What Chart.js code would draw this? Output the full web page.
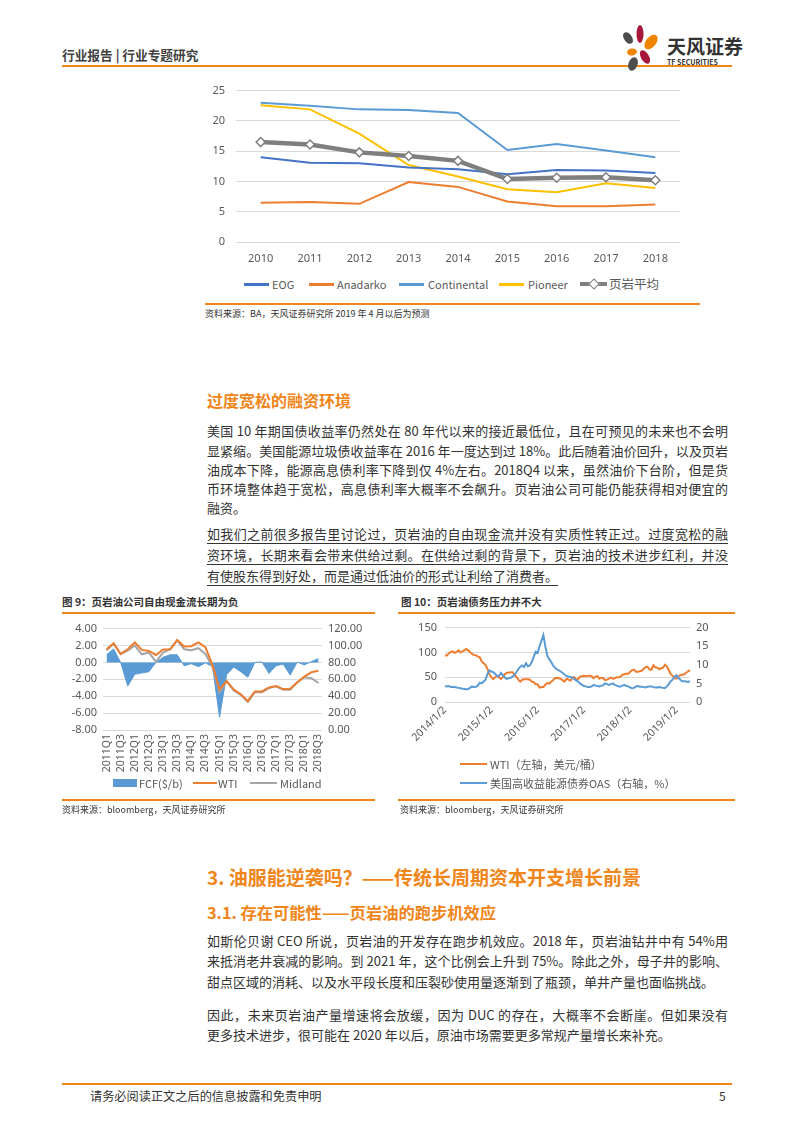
<!DOCTYPE html>
<html><head><meta charset="utf-8">
<script src="https://cdn.jsdelivr.net/npm/chart.js@4.4.1/dist/chart.umd.min.js"></script>
<style>
body{margin:0;background:#fff;}
#page{position:relative;width:793px;height:1122px;overflow:hidden;font-family:'Noto Sans CJK SC','Noto Sans',sans-serif;color:#333;}
.hl{position:absolute;height:2px;background:#F08519;}
.t{position:absolute;white-space:nowrap;line-height:16px;}
.lg{position:absolute;}
.para{position:absolute;left:207px;width:521px;font-size:13px;color:#333;}
.para div{text-align:justify;text-align-last:justify;white-space:nowrap;}
.para div.last{text-align-last:left;}
.p1 div{height:19.3px;line-height:19.3px;}
.p2 div{height:21px;line-height:21px;}
.p3 div{height:20.7px;line-height:20.7px;}
.ul div{text-decoration:underline;text-underline-offset:4px;text-decoration-thickness:1px;}
.h{position:absolute;left:207px;color:#F08519;font-weight:bold;white-space:nowrap;}
canvas{position:absolute;}
</style></head><body>
<div id="page">
  <!-- header -->
  <div class="t" style="left:62px;top:47px;font-size:12.7px;font-weight:bold;color:#404040;">行业报告 | 行业专题研究</div>
  <div class="hl" style="left:62px;top:65px;width:670px;"></div>
  <svg style="position:absolute;left:615px;top:22px;" width="50" height="50" viewBox="0 0 50 50">
    <ellipse cx="13" cy="16" rx="4" ry="6.5" fill="#4d4d4d" transform="rotate(-35 13 16)"/>
    <ellipse cx="25" cy="12" rx="3.5" ry="9" fill="#A8173A"/>
    <ellipse cx="36" cy="20" rx="5" ry="8.5" fill="#F08300" transform="rotate(40 36 20)"/>
    <ellipse cx="17" cy="30" rx="5" ry="3.5" fill="#F08300" transform="rotate(-10 17 30)"/>
    <ellipse cx="30" cy="35" rx="4" ry="7.5" fill="#A8173A" transform="rotate(-30 30 35)"/>
    <ellipse cx="18" cy="42" rx="4.5" ry="7" fill="#4d4d4d" transform="rotate(20 18 42)"/>
  </svg>
  <div class="t" style="left:667px;top:35px;font-size:19px;line-height:22px;font-weight:bold;color:#333;">天风证券</div>
  <div class="t" style="left:667px;top:58px;font-size:7px;line-height:9px;font-weight:bold;color:#333;">TF SECURITIES</div>

  <!-- chart 1 -->
  <canvas id="c1" width="495" height="197" style="left:195px;top:73px;width:495px;height:197px;"></canvas>
  <div class="lg" style="left:244px;top:283px;width:25px;height:2.5px;background:#4472C4;"></div>
  <div class="t" style="left:272px;top:276px;font-size:11px;color:#595959;">EOG</div>
  <div class="lg" style="left:309px;top:283px;width:25px;height:2.5px;background:#ED7D31;"></div>
  <div class="t" style="left:337px;top:276px;font-size:11px;color:#595959;">Anadarko</div>
  <div class="lg" style="left:399px;top:283px;width:25px;height:2.5px;background:#5B9BD5;"></div>
  <div class="t" style="left:428px;top:276px;font-size:11px;color:#595959;">Continental</div>
  <div class="lg" style="left:499px;top:283px;width:25px;height:2.5px;background:#FFC000;"></div>
  <div class="t" style="left:528px;top:276px;font-size:11px;color:#595959;">Pioneer</div>
  <div class="lg" style="left:580px;top:282px;width:27px;height:4px;background:#7F7F7F;"></div>
  <div class="lg" style="left:590px;top:280px;width:6px;height:6px;background:#fff;border:1.5px solid #7F7F7F;transform:rotate(45deg);"></div>
  <div class="t" style="left:609px;top:275px;font-size:12.5px;line-height:18px;color:#595959;">页岩平均</div>
  <div class="hl" style="left:205px;top:303px;width:495px;"></div>
  <div class="t" style="left:205px;top:306px;font-size:9px;color:#333;">资料来源：BA，天风证券研究所  2019 年 4 月以后为预测</div>

  <!-- text block 1 -->
  <div class="h" style="top:389px;font-size:16px;line-height:22px;">过度宽松的融资环境</div>
  <div class="para p1" style="top:421.3px;">
    <div>美国 10 年期国债收益率仍然处在 80 年代以来的接近最低位，且在可预见的未来也不会明</div>
    <div>显紧缩。美国能源垃圾债收益率在 2016 年一度达到过 18%。此后随着油价回升，以及页岩</div>
    <div>油成本下降，能源高息债利率下降到仅 4%左右。2018Q4 以来，虽然油价下台阶，但是货</div>
    <div>币环境整体趋于宽松，高息债利率大概率不会飙升。页岩油公司可能仍能获得相对便宜的</div>
    <div class="last">融资。</div>
  </div>
  <div class="para p2 ul" style="top:523px;">
    <div>如我们之前很多报告里讨论过，页岩油的自由现金流并没有实质性转正过。过度宽松的融</div>
    <div>资环境，长期来看会带来供给过剩。在供给过剩的背景下，页岩油的技术进步红利，并没</div>
    <div class="last">有使股东得到好处，而是通过低油价的形式让利给了消费者。</div>
  </div>

  <!-- chart 9 -->
  <div class="t" style="left:62px;top:594px;font-size:10.5px;font-weight:bold;color:#333;">图 9：页岩油公司自由现金流长期为负</div>
  <div class="hl" style="left:62px;top:612px;width:313px;"></div>
  <canvas id="c9" width="320" height="162" style="left:55px;top:616px;width:320px;height:162px;"></canvas>
  <div class="lg" style="left:113px;top:779px;width:24px;height:8px;background:#5B9BD5;"></div>
  <div class="t" style="left:139px;top:775px;font-size:11px;color:#595959;">FCF($/b)</div>
  <div class="lg" style="left:193px;top:782px;width:24px;height:2px;background:#ED7D31;"></div>
  <div class="t" style="left:218px;top:775px;font-size:11px;color:#595959;">WTI</div>
  <div class="lg" style="left:250px;top:782px;width:27px;height:2px;background:#A5A5A5;"></div>
  <div class="t" style="left:280px;top:775px;font-size:11px;color:#595959;">Midland</div>
  <div class="hl" style="left:62px;top:799px;width:313px;"></div>
  <div class="t" style="left:62px;top:802px;font-size:9px;color:#333;">资料来源：bloomberg，天风证券研究所</div>

  <!-- chart 10 -->
  <div class="t" style="left:401px;top:594px;font-size:10.5px;font-weight:bold;color:#333;">图 10：页岩油债务压力并不大</div>
  <div class="hl" style="left:398px;top:612px;width:337px;"></div>
  <canvas id="c10" width="345" height="145" style="left:395px;top:613px;width:345px;height:145px;"></canvas>
  <div class="lg" style="left:460px;top:763px;width:27px;height:2px;background:#ED7D31;"></div>
  <div class="t" style="left:490px;top:756px;font-size:11px;color:#595959;">WTI（左轴，美元/桶）</div>
  <div class="lg" style="left:460px;top:782px;width:27px;height:2px;background:#5B9BD5;"></div>
  <div class="t" style="left:490px;top:775px;font-size:11px;color:#595959;">美国高收益能源债券OAS（右轴，%）</div>
  <div class="hl" style="left:398px;top:799px;width:337px;"></div>
  <div class="t" style="left:400px;top:802px;font-size:9px;color:#333;">资料来源：bloomberg，天风证券研究所</div>

  <!-- section 3 -->
  <div class="h" style="top:865px;font-size:19px;line-height:24px;">3. 油服能逆袭吗？——传统长周期资本开支增长前景</div>
  <div class="h" style="top:901px;font-size:16.3px;line-height:22px;">3.1. 存在可能性——页岩油的跑步机效应</div>
  <div class="para p3" style="top:930.6px;">
    <div>如斯伦贝谢 CEO 所说，页岩油的开发存在跑步机效应。2018 年，页岩油钻井中有 54%用</div>
    <div>来抵消老井衰减的影响。到 2021 年，这个比例会上升到 75%。除此之外，母子井的影响、</div>
    <div class="last">甜点区域的消耗、以及水平段长度和压裂砂使用量逐渐到了瓶颈，单井产量也面临挑战。</div>
  </div>
  <div class="para p3" style="top:1004.6px;">
    <div>因此，未来页岩油产量增速将会放缓，因为 DUC 的存在，大概率不会断崖。但如果没有</div>
    <div class="last">更多技术进步，很可能在 2020 年以后，原油市场需要更多常规产量增长来补充。</div>
  </div>

  <!-- footer -->
  <div class="hl" style="left:62px;top:1083px;width:670px;"></div>
  <div class="t" style="left:90px;top:1088px;font-size:12.2px;color:#333;">请务必阅读正文之后的信息披露和免责申明</div>
  <div class="t" style="left:719px;top:1088px;font-size:12px;color:#333;">5</div>
</div>
<script>
// ---------- Chart 1 data ----------
const years = ['2010','2011','2012','2013','2014','2015','2016','2017','2018'];
const eog = [14.0,13.1,13.0,12.3,12.0,11.2,11.9,11.8,11.4];
const anadarko = [6.5,6.6,6.3,9.9,9.1,6.7,5.9,5.9,6.2];
const continental = [23.0,22.5,21.9,21.8,21.3,15.2,16.2,15.1,14.0];
const pioneer = [22.6,21.9,17.9,12.7,10.8,8.7,8.2,9.7,8.9];
const shaleAvg = [16.5,16.1,14.8,14.2,13.4,10.4,10.6,10.7,10.2];
const yTicks1 = [0,5,10,15,20,25];

// ---------- Chart 9 data ----------
const quarters = ['2011Q1','2011Q2','2011Q3','2011Q4','2012Q1','2012Q2','2012Q3','2012Q4',
  '2013Q1','2013Q2','2013Q3','2013Q4','2014Q1','2014Q2','2014Q3','2014Q4',
  '2015Q1','2015Q2','2015Q3','2015Q4','2016Q1','2016Q2','2016Q3','2016Q4',
  '2017Q1','2017Q2','2017Q3','2017Q4','2018Q1','2018Q2','2018Q3'];
const fcf = [0.9,1.6,0.0,-2.8,-1.4,-1.25,-1.1,0.0,0.6,0.9,0.9,-0.4,-0.15,-0.5,-0.05,-0.5,
  -6.5,-1.45,-0.55,-1.1,-1.75,0.0,0.05,-1.3,-0.4,-0.2,-1.5,0.05,-0.3,0.1,0.45];
const wti9 = [95.6,102.8,90,95.6,103.6,94.8,93.6,88.8,95.2,95.2,106.4,98.8,99.2,103.6,98,76.8,
  48,58,48,42.4,34.4,45.6,45.6,50.4,52,48.4,48.8,56.4,63.2,68.4,70];
const midland9 = [94.4,102,89.6,94,100,89.6,91.6,80.8,91.6,95.6,106,95.6,94.4,96.8,90,74.8,
  44.8,57.6,46.8,41.6,33.2,44.8,44.8,49.6,51.6,47.6,47.6,56.4,62.4,61.2,55.6];
const yTicks9L = [-8,-6,-4,-2,0,2,4];
const yTicks9R = [0,20,40,60,80,100,120];

// ---------- Chart 10 data (semi-monthly readings) ----------
const dates10 = [];
for (let y = 2014; y <= 2019; y++) {
  for (let m = 1; m <= 12; m++) {
    if (y === 2019 && m > 4) break;
    dates10.push(y + '/' + m + '/2');
    dates10.push(y + '/' + m + '/16');
  }
}
const xTickLabels10 = ['2014/1/2','2015/1/2','2016/1/2','2017/1/2','2018/1/2','2019/1/2'];
const wti10 = [
  94,94, 98,101, 102,99, 101,104, 100,102, 104,107, 104,101, 97,95, 94,92, 90,82, 78,75, 67,56,
  50,46, 50,52, 50,46, 50,56, 59,59, 60,60, 55,51, 45,41, 45,46, 46,46, 45,41, 40,36,
  36,29, 30,30, 35,38, 37,41, 44,48, 49,48, 46,44, 41,47, 45,43, 49,50, 45,46, 51,52,
  53,52, 53,53, 52,48, 51,52, 47,49, 48,44, 45,47, 49,47, 48,50, 50,51, 55,56, 57,57,
  61,64, 65,61, 61,62, 63,67, 70,71, 66,65, 74,70, 69,66, 68,69, 75,72, 64,56, 53,48,
  47,52, 54,55, 56,59, 62,64];
const oas10 = [
  4.3,4.2, 4.3,4.0, 4.0,4.0, 3.9,3.8, 3.7,3.6, 3.5,3.4, 3.5,3.8, 4.2,4.0, 4.1,4.4, 5.2,5.0, 5.5,6.0, 7.5,8.5,
  8.2,8.0, 7.6,7.0, 7.0,7.8, 7.2,6.6, 6.2,6.4, 6.5,6.8, 7.3,8.0, 8.8,9.5, 9.8,9.4, 10.4,9.6, 9.8,10.8, 12.2,13.5,
  13.2,15.0, 16.5,18.0, 15.0,12.5, 11.5,10.8, 9.8,9.2, 8.8,8.5, 8.2,7.8, 7.4,7.0, 6.8,6.8, 6.5,6.2, 5.8,5.5, 5.0,4.6,
  4.3,4.2, 4.0,4.0, 4.2,4.6, 4.4,4.3, 4.2,4.4, 4.5,5.0, 4.8,4.6, 4.8,5.0, 4.6,4.4, 4.2,4.2, 4.4,4.6, 4.3,4.2,
  3.9,3.7, 3.8,4.2, 4.3,4.1, 4.1,4.0, 3.9,4.1, 4.2,4.2, 4.0,3.9, 3.9,4.0, 3.9,3.8, 3.7,4.2, 4.8,5.6, 6.0,6.8,
  7.2,6.5, 6.0,5.6, 5.6,5.5, 5.4,5.6];
const yTicks10L = [0,50,100,150];
const yTicks10R = [0,5,10,15,20];

// ---------- common ----------
Chart.defaults.font.family = "'Noto Sans','Noto Sans CJK SC',sans-serif";
Chart.defaults.color = '#595959';
const grid = {color:'#D9D9D9', drawTicks:false};
const noGrid = {display:false, drawTicks:false};
const noBorder = {display:false};
const setTicks = arr => (s => { s.ticks = arr.map(v => ({value:v})); });
const baseOpts = {responsive:false, animation:false, plugins:{legend:{display:false}, tooltip:{enabled:false}}};

new Chart(document.getElementById('c1'), {
  type:'line',
  data:{labels:years, datasets:[
    {label:'EOG', data:eog, borderColor:'#4472C4', borderWidth:2, pointRadius:0, order:1},
    {label:'Anadarko', data:anadarko, borderColor:'#ED7D31', borderWidth:2, pointRadius:0, order:1},
    {label:'Continental', data:continental, borderColor:'#5B9BD5', borderWidth:2, pointRadius:0, order:1},
    {label:'Pioneer', data:pioneer, borderColor:'#FFC000', borderWidth:2, pointRadius:0, order:1},
    {label:'页岩平均', data:shaleAvg, borderColor:'#7F7F7F', borderWidth:4.5, pointStyle:'rectRot',
      pointRadius:4.5, pointBackgroundColor:'#fff', pointBorderColor:'#7F7F7F', pointBorderWidth:1.5, order:0}
  ]},
  options:Object.assign({}, baseOpts, {
    layout:{padding:{top:5, right:10, left:0, bottom:0}},
    scales:{
      x:{offset:true, grid:noGrid, border:noBorder, ticks:{padding:10, font:{size:11}},
         afterFit:s=>{s.height=28;}},
      y:{min:0, max:25, afterBuildTicks:setTicks(yTicks1), grid:grid, border:noBorder,
         ticks:{padding:11, font:{size:11}}, afterFit:s=>{s.width=41;}}
    }
  })
});

new Chart(document.getElementById('c9'), {
  type:'line',
  data:{labels:quarters, datasets:[
    {label:'FCF($/b)', data:fcf, yAxisID:'y', fill:'origin', backgroundColor:'#5B9BD5', borderColor:'#5B9BD5', borderWidth:1, pointRadius:0, order:3},
    {label:'WTI', data:wti9, yAxisID:'y1', borderColor:'#ED7D31', borderWidth:2, pointRadius:0, order:1},
    {label:'Midland', data:midland9, yAxisID:'y1', borderColor:'#A5A5A5', borderWidth:2, pointRadius:0, order:2}
  ]},
  options:Object.assign({}, baseOpts, {
    layout:{padding:{top:5, right:0, left:0, bottom:0}},
    scales:{
      x:{offset:true, grid:noGrid, border:noBorder,
         ticks:{autoSkip:false, minRotation:90, maxRotation:90, padding:4, font:{size:10.5},
                callback:(v,i)=> i%2===0 ? quarters[i] : ''},
         afterFit:s=>{s.height=48;}},
      y:{position:'left', min:-8, max:4, afterBuildTicks:setTicks(yTicks9L), grid:grid, border:noBorder,
         ticks:{padding:6, font:{size:11}, callback:v=>Number(v).toFixed(2)}, afterFit:s=>{s.width=48;}},
      y1:{position:'right', min:0, max:120, afterBuildTicks:setTicks(yTicks9R), grid:noGrid, border:noBorder,
         ticks:{padding:6, font:{size:11}, callback:v=>Number(v).toFixed(2)}, afterFit:s=>{s.width=53;}}
    }
  })
});

new Chart(document.getElementById('c10'), {
  type:'line',
  data:{labels:dates10, datasets:[
    {label:'WTI（左轴，美元/桶）', data:wti10, yAxisID:'y', borderColor:'#ED7D31', borderWidth:2, pointRadius:0, order:1},
    {label:'美国高收益能源债券OAS（右轴，%）', data:oas10, yAxisID:'y1', borderColor:'#5B9BD5', borderWidth:2, pointRadius:0, order:0}
  ]},
  options:Object.assign({}, baseOpts, {
    layout:{padding:{top:5, right:0, left:0, bottom:0}},
    scales:{
      x:{offset:false, grid:noGrid, border:noBorder,
         ticks:{autoSkip:false, minRotation:45, maxRotation:45, padding:2, font:{size:10.5},
                callback:(v,i)=> xTickLabels10.includes(dates10[i]) ? dates10[i] : ''},
         afterFit:s=>{s.height=56;}},
      y:{position:'left', min:0, max:150, afterBuildTicks:setTicks(yTicks10L), grid:grid, border:noBorder,
         ticks:{padding:8, font:{size:11}}, afterFit:s=>{s.width=50;}},
      y1:{position:'right', min:0, max:20, afterBuildTicks:setTicks(yTicks10R), grid:noGrid, border:noBorder,
         ticks:{padding:6, font:{size:11}}, afterFit:s=>{s.width=50;}}
    }
  })
});
</script>
</body></html>
